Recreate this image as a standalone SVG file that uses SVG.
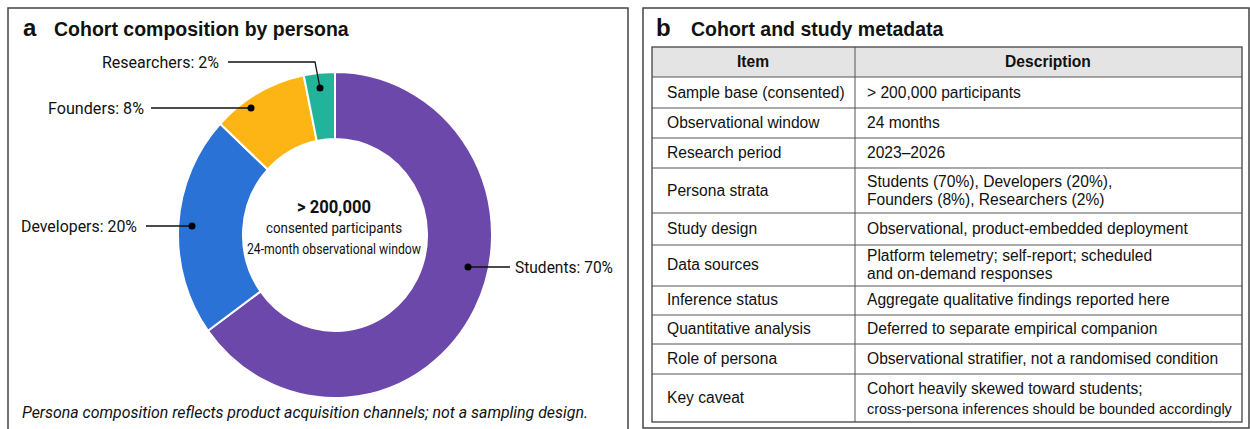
<svg xmlns="http://www.w3.org/2000/svg" width="1250" height="429" viewBox="0 0 1250 429">
<style>
.panel{fill:#fff;stroke:#444;stroke-width:1.5}
.ttl{font-family:"Liberation Sans",Arial,sans-serif;font-weight:bold;font-size:19.5px;fill:#111}
.let{font-family:"Liberation Sans",Arial,sans-serif;font-weight:bold;font-size:24px;fill:#111}
.lbl{font-family:Roboto,"Liberation Sans",sans-serif;font-size:17px;fill:#111}
.ctr{font-family:Roboto,"Liberation Sans",sans-serif;font-size:14.5px;fill:#111;text-anchor:middle}
.ctrb{font-family:Roboto,"Liberation Sans",sans-serif;font-size:17.5px;font-weight:bold;fill:#111;text-anchor:middle}
.cap{font-family:Roboto,"Liberation Sans",sans-serif;font-size:17px;font-style:italic;fill:#111}
.seg{stroke:#fff;stroke-width:2;stroke-linejoin:round}
.lead{fill:none;stroke:#111;stroke-width:1.3}
.dot{fill:#000}
.cell{font-family:"Liberation Sans",Arial,sans-serif;font-size:15.6px;fill:#111}
.hd{font-family:"Liberation Sans",Arial,sans-serif;font-size:15.6px;font-weight:bold;fill:#111;text-anchor:middle}
.grid{stroke:#555;stroke-width:1}
</style>
<rect width="1250" height="429" fill="#fff"/>
<g id="panel-a">
<rect class="panel" x="8" y="8" width="620" height="424"/>
<text class="let" x="23" y="36">a</text>
<text class="ttl" x="54" y="36">Cohort composition by persona</text>
</g>
<g id="donut">
<path id="seg-students" class="seg" fill="#6D48AB" d="M335,72 A157,163 0 1 1 208.0,330.8 L260.6,291.4 A92,96 0 1 0 335,139 Z"/>
<path id="seg-developers" class="seg" fill="#2A72D6" d="M208.0,330.8 A157,163 0 0 1 220.2,123.8 L267.7,169.5 A92,96 0 0 0 260.6,291.4 Z"/>
<path id="seg-founders" class="seg" fill="#FCB514" d="M220.2,123.8 A157,163 0 0 1 303.7,75.3 L316.7,140.9 A92,96 0 0 0 267.7,169.5 Z"/>
<path id="seg-researchers" class="seg" fill="#21B49B" d="M303.7,75.3 A157,163 0 0 1 335,72 L335,139 A92,96 0 0 0 316.7,140.9 Z"/>
</g>
<g id="center-text">
<text class="ctrb" x="334" y="213" textLength="74" lengthAdjust="spacingAndGlyphs">&gt; 200,000</text>
<text class="ctr" x="334" y="233" textLength="136" lengthAdjust="spacingAndGlyphs">consented participants</text>
<text class="ctr" x="334" y="254" textLength="174" lengthAdjust="spacingAndGlyphs">24-month observational window</text>
</g>
<g id="connectors">
<polyline class="lead" points="228,62 315,62 320,88"/>
<circle class="dot" cx="320" cy="88" r="3.5"/>
<line class="lead" x1="151" y1="108" x2="251" y2="108"/>
<circle class="dot" cx="251" cy="108" r="3.5"/>
<line class="lead" x1="146" y1="226" x2="192" y2="226"/>
<circle class="dot" cx="192" cy="226" r="3.5"/>
<line class="lead" x1="468" y1="267" x2="510" y2="267"/>
<circle class="dot" cx="468" cy="267" r="3.5"/>
</g>
<g id="labels">
<text class="lbl" x="102" y="68" textLength="117" lengthAdjust="spacingAndGlyphs">Researchers: 2%</text>
<text class="lbl" x="48" y="114" textLength="96" lengthAdjust="spacingAndGlyphs">Founders: 8%</text>
<text class="lbl" x="21" y="232" textLength="116" lengthAdjust="spacingAndGlyphs">Developers: 20%</text>
<text class="lbl" x="515" y="273" textLength="98" lengthAdjust="spacingAndGlyphs">Students: 70%</text>
</g>
<text class="cap" x="22" y="418" textLength="566" lengthAdjust="spacingAndGlyphs">Persona composition reflects product acquisition channels; not a sampling design.</text>
<g id="panel-b">
<rect class="panel" x="643" y="8" width="606" height="420"/>
<text class="let" x="656" y="36">b</text>
<text class="ttl" x="691" y="36">Cohort and study metadata</text>
</g>
<g id="table">
<rect x="652" y="47" width="590" height="30" fill="#e4e4e4"/>
<g class="grid">
<line x1="652" y1="77" x2="1242" y2="77"/>
<line x1="652" y1="108" x2="1242" y2="108"/>
<line x1="652" y1="138" x2="1242" y2="138"/>
<line x1="652" y1="168" x2="1242" y2="168"/>
<line x1="652" y1="213" x2="1242" y2="213"/>
<line x1="652" y1="245" x2="1242" y2="245"/>
<line x1="652" y1="286" x2="1242" y2="286"/>
<line x1="652" y1="315" x2="1242" y2="315"/>
<line x1="652" y1="344" x2="1242" y2="344"/>
<line x1="652" y1="374" x2="1242" y2="374"/>
<line x1="855" y1="47" x2="855" y2="422"/>
</g>
<rect x="652" y="47" width="590" height="375" fill="none" stroke="#444" stroke-width="1.3"/>
<text class="hd" x="753" y="67">Item</text>
<text class="hd" x="1048" y="67">Description</text>
<text class="cell" x="667" y="98">Sample base (consented)</text>
<text class="cell" x="867" y="98">&gt; 200,000 participants</text>
<text class="cell" x="667" y="128">Observational window</text>
<text class="cell" x="867" y="128">24 months</text>
<text class="cell" x="667" y="158">Research period</text>
<text class="cell" x="867" y="158">2023–2026</text>
<text class="cell" x="667" y="196">Persona strata</text>
<text class="cell" x="867" y="187">Students (70%), Developers (20%),</text>
<text class="cell" x="867" y="205">Founders (8%), Researchers (2%)</text>
<text class="cell" x="667" y="234">Study design</text>
<text class="cell" x="867" y="234">Observational, product-embedded deployment</text>
<text class="cell" x="667" y="270">Data sources</text>
<text class="cell" x="867" y="261">Platform telemetry; self-report; scheduled</text>
<text class="cell" x="867" y="279">and on-demand responses</text>
<text class="cell" x="667" y="305">Inference status</text>
<text class="cell" x="867" y="305">Aggregate qualitative findings reported here</text>
<text class="cell" x="667" y="334">Quantitative analysis</text>
<text class="cell" x="867" y="334">Deferred to separate empirical companion</text>
<text class="cell" x="667" y="364">Role of persona</text>
<text class="cell" x="867" y="364">Observational stratifier, not a randomised condition</text>
<text class="cell" x="667" y="403">Key caveat</text>
<text class="cell" x="867" y="394">Cohort heavily skewed toward students;</text>
<text class="cell" x="867" y="414" style="font-size:14.4px">cross-persona inferences should be bounded accordingly</text>
</g>
</svg>
